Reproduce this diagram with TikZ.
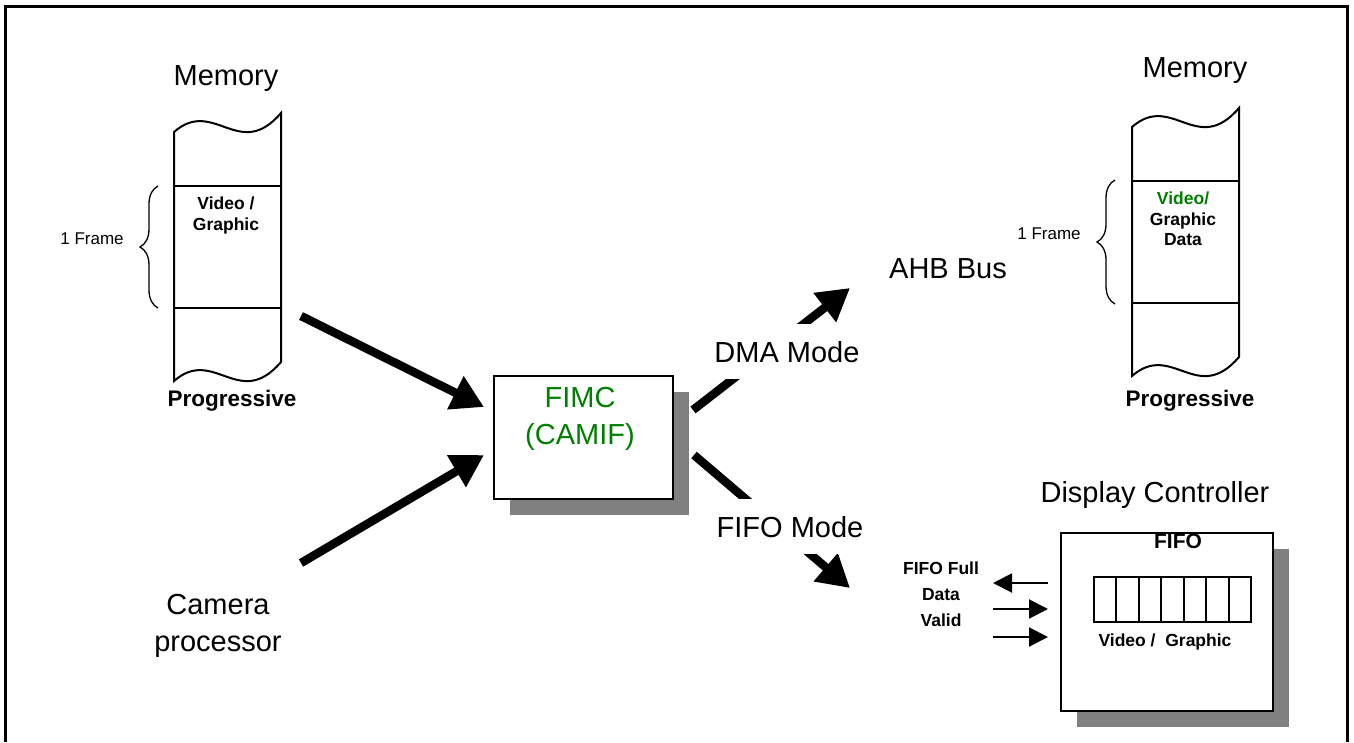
\documentclass[tikz,border=0pt]{standalone}
\usepackage{fontspec}
\setmainfont{Liberation Sans}
\usetikzlibrary{arrows.meta, shadows, decorations.pathreplacing}
\definecolor{fimcgreen}{RGB}{0,128,0}
\definecolor{shadowgray}{RGB}{128,128,128}

\begin{document}
\begin{tikzpicture}[
    x=1pt, y=-1pt,
    biglabel/.style={font=\fontsize{29}{37}\selectfont, inner sep=0pt},
    boldlabel/.style={font=\fontsize{17.5}{20.5}\selectfont\bfseries, inner sep=0pt},
    smalllabel/.style={font=\fontsize{17}{20}\selectfont, inner sep=0pt},
    memline/.style={line width=2pt},
    shadowbox/.style={rectangle, draw, line width=2pt, fill=white, drop shadow={shadow xshift=15.5pt, shadow yshift=-15.5pt, fill=shadowgray, opacity=1}},
    cell/.style={rectangle, draw, line width=2pt, minimum width=22.43pt, minimum height=45pt, inner sep=0pt},
    bigarrow/.style={-{Triangle[length=32pt, width=35pt]}, line width=8.5pt},
    smallarrow/.style={-{Triangle[length=19pt, width=19pt]}, line width=2pt},
    modelabel/.style={biglabel, fill=white, minimum height=55pt, inner xsep=3pt},
    framebrace/.style={decorate, decoration={brace, amplitude=18pt}, line width=1.3pt}
]
\useasboundingbox (0,0) rectangle (1354,742);

% outer frame, open at the bottom
\draw[line width=3pt] (5,742) -- (5,6) -- (1347,6) -- (1347,742);

% memory columns
\foreach \ox/\oy in {174/132, 1132/127} {
  \begin{scope}[shift={(\ox,\oy)}]
    \draw[memline, fill=white] (0,0) .. controls (40,-35) and (65,30) .. (107,-19)
      -- (107,230) .. controls (65,279) and (40,214) .. (0,249) -- cycle;
    \draw[memline] (0,54) -- (107,54);
    \draw[memline] (0,176) -- (107,176);
  \end{scope}
}

\node[biglabel, anchor=base] (memL) at (226,85) {Memory};
\node[boldlabel, align=center] (dataL) at (226,215.6) {Video /\\Graphic};
\node[boldlabel, font=\fontsize{22.5}{26}\selectfont\bfseries, anchor=base] (progL) at (232,406) {Progressive};
\draw[framebrace] (158,308) -- (158,186);
\node[smalllabel, anchor=base] (frameL) at (92,244) {1 Frame};

\node[biglabel, anchor=base] (memR) at (1195,77.5) {Memory};
\node[boldlabel, align=center] (dataR) at (1183,219) {\textcolor{fimcgreen}{Video/}\\Graphic\\Data};
\node[boldlabel, font=\fontsize{22.5}{26}\selectfont\bfseries, anchor=base] (progR) at (1190,406) {Progressive};
\draw[framebrace] (1115,304) -- (1115,180);
\node[smalllabel, anchor=base] (frameR) at (1049,239) {1 Frame};

% FIMC
\node[shadowbox, minimum width=179pt, minimum height=123pt] (fimc) at (583.5,437.5) {};
\node[biglabel, align=center, text=fimcgreen] (fimctext) at (580,419) {FIMC\\(CAMIF)};

\node[biglabel, align=center] (camera) at (218,626) {Camera\\processor};
\node[biglabel, anchor=base] (ahb) at (948,278) {AHB Bus};

% display controller
\node[biglabel, anchor=base] (dispname) at (1155,502) {Display Controller};
\node[shadowbox, minimum width=212pt, minimum height=178pt] (disp) at (1167,622) {};
\node[boldlabel, font=\fontsize{21}{24}\selectfont\bfseries, anchor=base] (fifotitle) at (1178,548.5) {FIFO};
\foreach \i in {0,...,6}
  \node[cell] (cell\i) at ({1105.2+22.43*\i},599.5) {};
\node[boldlabel, anchor=base] (fifodata) at (1165,646) {Video /\ \ Graphic};
\node[boldlabel, align=center, font=\fontsize{17.5}{26}\selectfont\bfseries] (flags) at (941,594) {FIFO Full\\Data\\Valid};

% arrow ends
\coordinate (memout) at (301,316);
\coordinate (camout) at (301,563);
\coordinate (fimcinA) at (484,407);
\coordinate (fimcinB) at (484,455);
\coordinate (fimcoutA) at (693,410);
\coordinate (fimcoutB) at (694,455);
\coordinate (dmatip) at (850,288);
\coordinate (fifotip) at (850,588);
\coordinate (fullA) at (1048,583);
\coordinate (fullB) at (993,583);
\coordinate (dataA) at (993,609);
\coordinate (dataB) at (1048,609);
\coordinate (validA) at (993,637);
\coordinate (validB) at (1048,637);

\draw[bigarrow] (memout) -- (fimcinA);
\draw[bigarrow] (camout) -- (fimcinB);
\draw[bigarrow] (fimcoutA) -- (dmatip);
\draw[bigarrow] (fimcoutB) -- (fifotip);
\draw[smallarrow] (fullA) -- (fullB);
\draw[smallarrow] (dataA) -- (dataB);
\draw[smallarrow] (validA) -- (validB);

\node[modelabel, anchor=base] (dma) at (787,362) {DMA Mode};
\node[modelabel, anchor=base] (fifomode) at (790,537) {FIFO Mode};

\end{tikzpicture}
\end{document}
